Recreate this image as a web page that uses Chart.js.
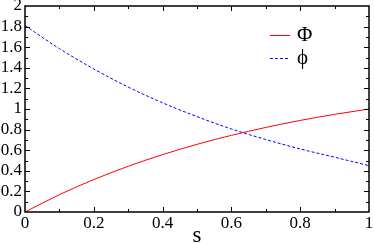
<!DOCTYPE html>
<html>
<head>
<meta charset="utf-8">
<script src="https://cdn.jsdelivr.net/npm/chart.js@4"></script>
<style>
  html, body { margin: 0; padding: 0; background: #fff; }
  #wrap { width: 374px; height: 244px; }
</style>
</head>
<body>
<div id="wrap"><canvas id="chart"></canvas></div>
<script>
// values
const sValues = [0, 0.1, 0.2, 0.3, 0.4, 0.5, 0.6, 0.7, 0.8, 0.9, 1.0];
const bigPhi = [0, 0.168, 0.315, 0.444, 0.557, 0.657, 0.744, 0.821, 0.889, 0.948, 1.0];
const smallPhi = [1.81, 1.586, 1.389, 1.213, 1.06, 0.926, 0.806, 0.704, 0.612, 0.532, 0.45];
const seriesNames = ["Φ", "ϕ"];

const serif = "'Liberation Serif', 'Times New Roman', serif";
Chart.defaults.font.family = serif;
const fmt = (v) => String(+Number(v).toFixed(1));

// frame, inward ticks, tick labels and the legend box
const framePlugin = {
  id: "frame",
  afterDraw(chart) {
    const { ctx, chartArea: a, scales } = chart;
    ctx.save();
    ctx.strokeStyle = "#000";
    ctx.lineWidth = 1.5;
    ctx.strokeRect(a.left, a.top, a.right - a.left, a.bottom - a.top);
    ctx.lineWidth = 1;
    for (let i = 1; i < 10; i++) {
      const x = Math.round(scales.x.getPixelForValue(i / 10)) + 0.5;
      const len = i % 2 === 0 ? 5 : 3;
      ctx.beginPath();
      ctx.moveTo(x, a.bottom); ctx.lineTo(x, a.bottom - len);
      ctx.moveTo(x, a.top); ctx.lineTo(x, a.top + len);
      ctx.stroke();
    }
    for (let i = 1; i < 20; i++) {
      const y = Math.round(scales.y.getPixelForValue(i / 10)) + 0.5;
      const len = i % 2 === 0 ? 5 : 3;
      ctx.beginPath();
      ctx.moveTo(a.left, y); ctx.lineTo(a.left + len, y);
      ctx.moveTo(a.right, y); ctx.lineTo(a.right - len, y);
      ctx.stroke();
    }
    // tick labels
    ctx.fillStyle = "#000";
    ctx.font = "17px " + serif;
    ctx.textAlign = "right";
    ctx.textBaseline = "middle";
    scales.y.ticks.forEach((t) => {
      ctx.fillText(fmt(t.value), a.left - 3, scales.y.getPixelForValue(t.value));
    });
    ctx.textAlign = "center";
    ctx.textBaseline = "top";
    scales.x.ticks.forEach((t) => {
      ctx.fillText(fmt(t.value), scales.x.getPixelForValue(t.value), a.bottom + 3);
    });
    // legend
    chart.data.datasets.forEach((ds, i) => {
      const y = 35 + i * 23 + 0.5;
      ctx.strokeStyle = ds.borderColor;
      ctx.lineWidth = 1;
      ctx.setLineDash(ds.borderDash || []);
      ctx.beginPath();
      ctx.moveTo(270, y); ctx.lineTo(290, y);
      ctx.stroke();
      ctx.setLineDash([]);
      ctx.fillStyle = "#000";
      ctx.font = "21px " + serif;
      ctx.textAlign = "left";
      ctx.textBaseline = "middle";
      ctx.fillText(ds.label, 297, y);
    });
    ctx.restore();
  },
};

new Chart(document.getElementById("chart"), {
  type: "line",
  data: {
    datasets: [
      {
        label: seriesNames[0],
        data: sValues.map((s, i) => ({ x: s, y: bigPhi[i] })),
        borderColor: "#ff0000",
        borderWidth: 1,
        pointRadius: 0,
        cubicInterpolationMode: "monotone",
      },
      {
        label: seriesNames[1],
        data: sValues.map((s, i) => ({ x: s, y: smallPhi[i] })),
        borderColor: "#0000ff",
        borderWidth: 1,
        borderDash: [3, 2],
        pointRadius: 0,
        cubicInterpolationMode: "monotone",
      },
    ],
  },
  options: {
    responsive: true,
    maintainAspectRatio: false,
    animation: false,
    layout: { padding: { top: 6, right: 5, left: 0, bottom: 0 } },
    plugins: { legend: { display: false }, tooltip: { enabled: false } },
    scales: {
      x: {
        type: "linear",
        min: 0,
        max: 1,
        grid: { display: false, drawTicks: false },
        border: { display: false },
        ticks: { stepSize: 0.2, autoSkip: false, display: false },
        title: {
          display: true,
          text: "s",
          color: "#000",
          padding: { top: 0, bottom: -3 },
          font: { family: serif, size: 23, lineHeight: 1 },
        },
        afterFit(scale) { scale.height = 32; },
      },
      y: {
        min: 0,
        max: 2,
        grid: { display: false, drawTicks: false },
        border: { display: false },
        ticks: { stepSize: 0.2, autoSkip: false, display: false },
        afterFit(scale) { scale.width = 25; },
      },
    },
  },
  plugins: [framePlugin],
});
</script>
</body>
</html>
